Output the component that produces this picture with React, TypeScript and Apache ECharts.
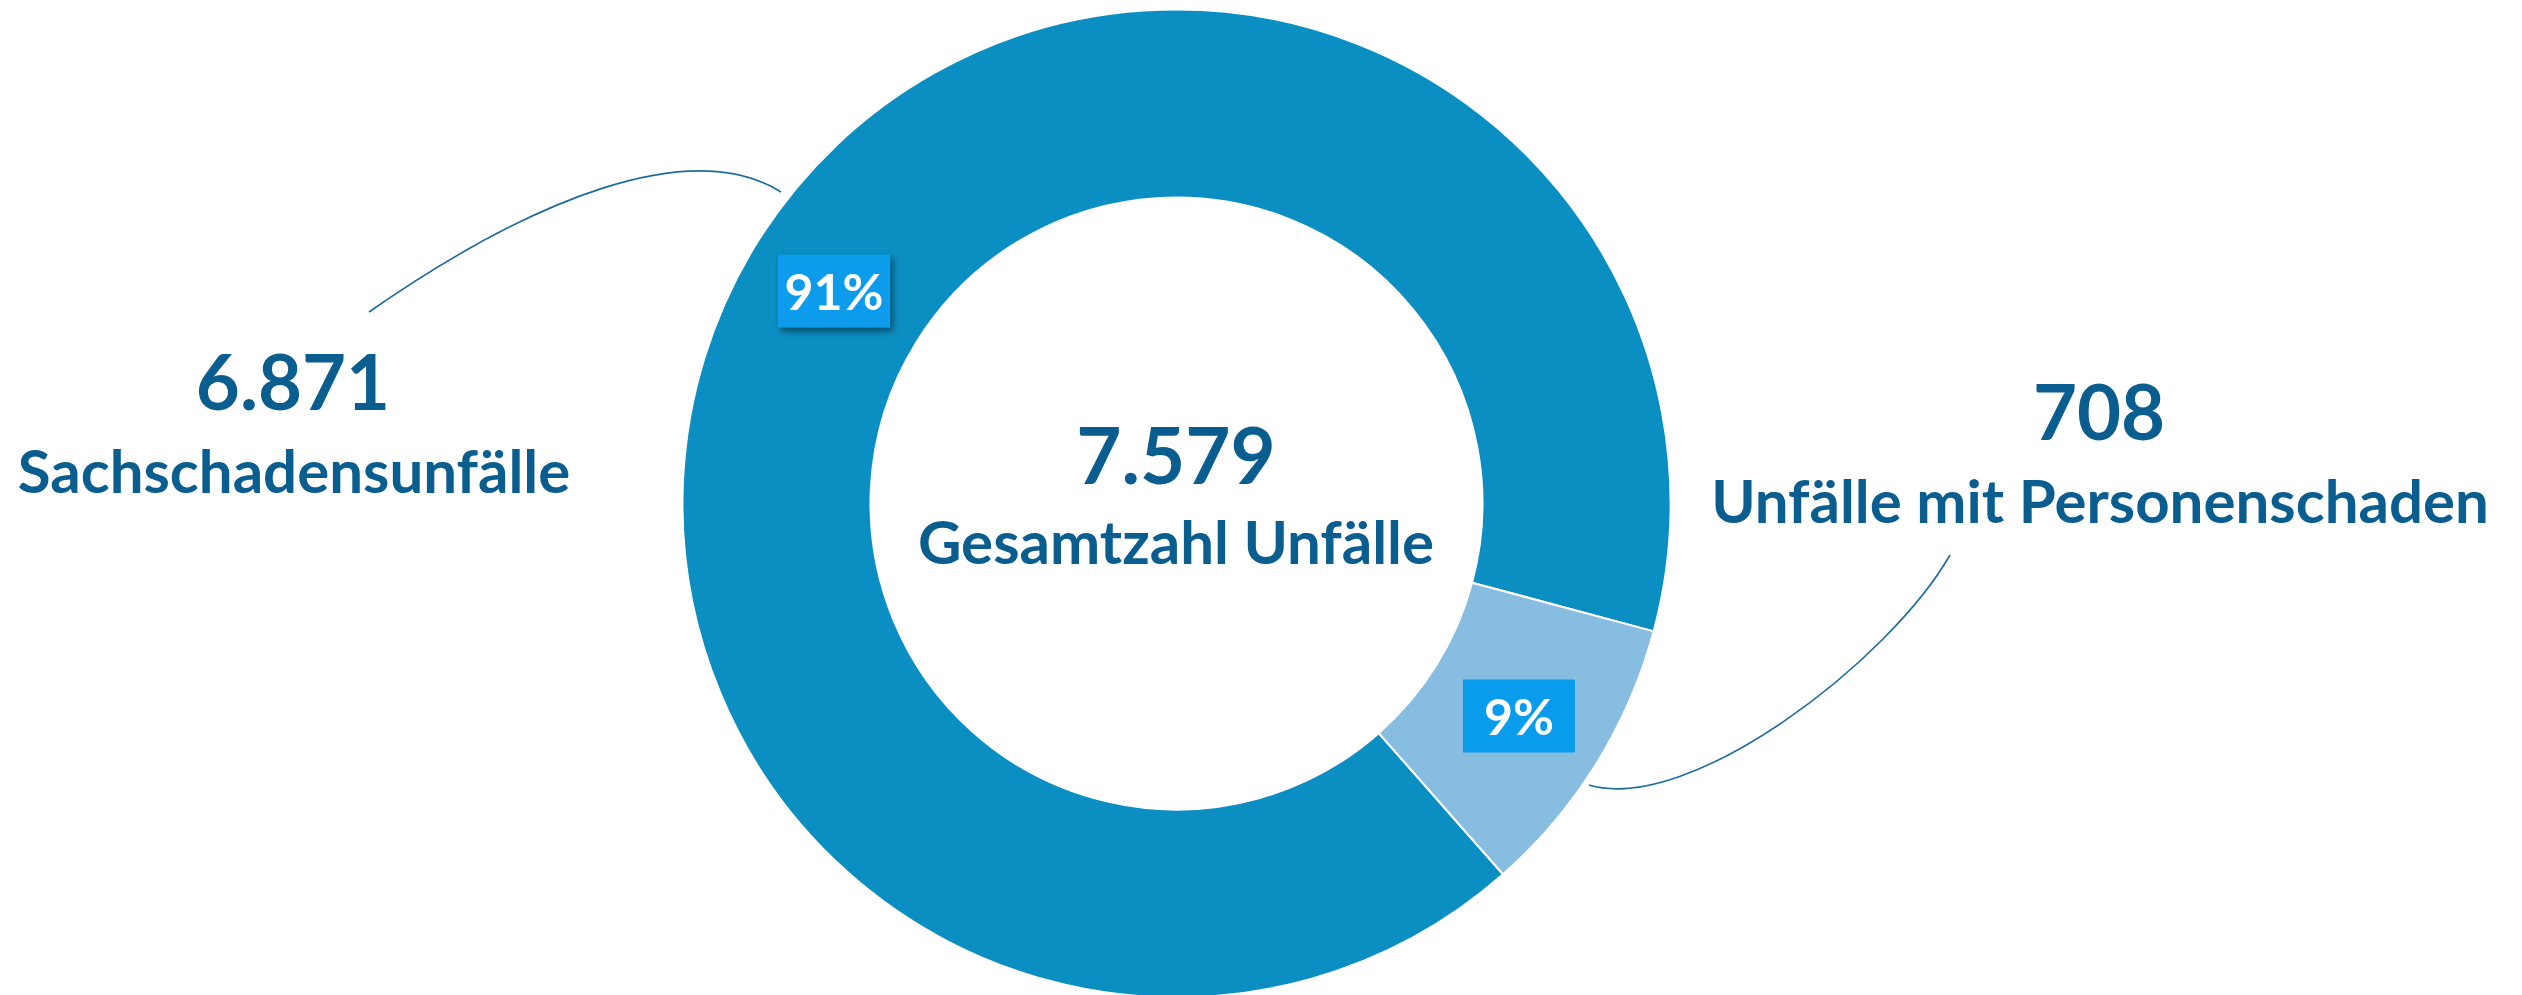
import React, { useEffect, useRef } from "react";
import * as echarts from "echarts";

const categories = ["Sachschadensunfälle", "Unfälle mit Personenschaden"];
const values = [6871, 708];
const sliceColors = ["#0b8ec1", "#88bde2"];
const totalTitle = "Gesamtzahl Unfälle";

const TEXT = "#0a5e8f";
const FONT = "Lato, 'Open Sans', sans-serif";

const fmt = (n: number) => String(n).replace(/\B(?=(\d{3})+(?!\d))/g, ".");

export default function App() {
  const ref = useRef<HTMLDivElement>(null);
  useEffect(() => {
    if (!ref.current) return;
    const chart = echarts.init(ref.current, undefined, { renderer: "svg" });
    const total = values.reduce((a, b) => a + b, 0);
    const cx = 1176.5;
    const cy = 503.5;
    const startAngle = -15 - (values[1] / total) * 360;

    const boxLabel = {
      show: true,
      position: "inside",
      formatter: (p: any) => Math.round(p.percent) + "%",
      color: "#ffffff",
      fontFamily: FONT,
      fontWeight: "bold",
      fontSize: 50,
      backgroundColor: "#0a9cec",
      width: 100,
      height: 45,
      lineHeight: 45,
      overflow: "none",
      align: "center",
      verticalAlign: "middle",
      padding: [14, 6, 14, 6],
    };

    const txt = (text: string, x: number, y: number, size: number) => ({
      type: "text",
      x,
      y,
      style: {
        text,
        fill: TEXT,
        font: `bold ${size}px ${FONT}`,
        align: "center",
        verticalAlign: "middle",
        textAlign: "center",
        textVerticalAlign: "middle",
      },
    });

    chart.setOption({
      animation: false,
      backgroundColor: "#ffffff",
      series: [
        {
          type: "pie",
          center: [cx, cy],
          radius: [306, 494],
          startAngle,
          clockwise: true,
          avoidLabelOverlap: false,
          itemStyle: { borderColor: "#ffffff", borderWidth: 2 },
          labelLine: { show: false },
          label: boxLabel,
          data: categories.map((name, i) => ({
            name,
            value: values[i],
            itemStyle: { color: sliceColors[i] },
            label:
              i === 0
                ? {
                    shadowColor: "rgba(0,0,0,0.45)",
                    shadowBlur: 6,
                    shadowOffsetX: 3,
                    shadowOffsetY: 4,
                  }
                : {},
          })),
          emphasis: { disabled: true },
        },
      ],
      graphic: [
        {
          type: "bezierCurve",
          shape: { x1: 369, y1: 312, cpx1: 530, cpy1: 200, cpx2: 690, cpy2: 135, x2: 781, y2: 192 },
          style: { stroke: "#1b6c9c", lineWidth: 1.6, fill: "none" },
        },
        {
          type: "bezierCurve",
          shape: { x1: 1950, y1: 555, cpx1: 1890, cpy1: 660, cpx2: 1690, cpy2: 815, x2: 1589, y2: 785 },
          style: { stroke: "#1b6c9c", lineWidth: 1.6, fill: "none" },
        },
        txt(fmt(values[0]), 293, 380, 76),
        txt(categories[0], 294, 470, 60),
        txt(fmt(total), 1176, 454, 78),
        txt(totalTitle, 1176, 541, 60),
        txt(fmt(values[1]), 2099, 410, 76),
        txt(categories[1], 2100, 500, 60),
      ],
    } as any);
    return () => chart.dispose();
  }, []);
  return (
    <div
      ref={ref}
      style={{ position: "fixed", left: 0, top: 0, width: 2522, height: 995, background: "#fff" }}
    />
  );
}
